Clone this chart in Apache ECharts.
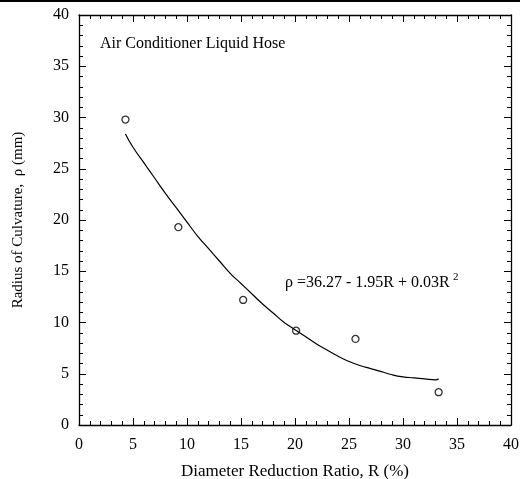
<!DOCTYPE html>
<html>
<head>
<meta charset="utf-8">
<script src="https://cdn.jsdelivr.net/npm/echarts@6/dist/echarts.min.js"></script>
<style>html,body{margin:0;padding:0;background:#fff;}#c{width:520px;height:479px;}</style>
</head>
<body>
<div id="c"></div>
<script>
// Measured data points (R %, rho mm)
var pointR = [4.3, 9.2, 15.2, 20.1, 25.6, 33.3];
var pointRho = [29.8, 19.3, 12.2, 9.2, 8.4, 3.2];
// Fitted curve
var curveR = [4.3, 5, 6, 7, 8, 9, 10, 11, 12, 13, 14, 15, 16, 17, 18, 19, 20, 21, 22, 23, 24, 25, 26, 27, 28, 29, 30, 31, 32, 33, 33.3];
var curveRho = [28.4, 27.1, 25.6, 24.1, 22.6, 21.2, 19.8, 18.4, 17.2, 16.0, 14.8, 13.8, 12.8, 11.8, 10.9, 10.0, 9.3, 8.6, 7.9, 7.3, 6.7, 6.2, 5.8, 5.5, 5.2, 4.9, 4.7, 4.6, 4.5, 4.4, 4.5];
var xTicks = [0, 5, 10, 15, 20, 25, 30, 35, 40];
var yTicks = [0, 5, 10, 15, 20, 25, 30, 35, 40];

var FONT = '"Liberation Serif", "DejaVu Serif", serif';
function pairs(a, b) { return a.map(function (v, i) { return [v, b[i]]; }); }

function axisBase(pos, showLabels, min, max, margin) {
  return {
    type: 'value', position: pos, min: min, max: max, interval: 5,
    axisLine: { show: true, onZero: false, lineStyle: { color: '#000', width: 1.3 } },
    axisTick: { show: true, inside: true, length: 7, lineStyle: { color: '#000', width: 1 } },
    minorTick: { show: true, splitNumber: 5, length: 4, lineStyle: { color: '#000', width: 1 } },
    splitLine: { show: false },
    axisLabel: { show: showLabels, color: '#000', fontFamily: FONT, fontSize: 16, margin: margin }
  };
}

var chart = echarts.init(document.getElementById('c'), null, { renderer: 'canvas' });
var xb = axisBase('bottom', true, xTicks[0], xTicks[xTicks.length - 1], 12);
xb.name = 'Diameter Reduction Ratio, R (%)';
xb.nameLocation = 'middle';
xb.nameGap = 38;
xb.nameTextStyle = { color: '#000', fontFamily: FONT, fontSize: 17 };
var xt = axisBase('top', false, xTicks[0], xTicks[xTicks.length - 1], 8);
var yl = axisBase('left', true, yTicks[0], yTicks[yTicks.length - 1], 10);
yl.name = 'Radius of Culvature,  \u03c1 (mm)';
yl.nameLocation = 'middle';
yl.nameGap = 53;
yl.nameTextStyle = { color: '#000', fontFamily: FONT, fontSize: 15 };
var yr = axisBase('right', false, yTicks[0], yTicks[yTicks.length - 1], 8);

chart.setOption({
  animation: false,
  backgroundColor: '#fff',
  grid: { left: 79, right: 9, top: 15, bottom: 54, containLabel: false, outerBoundsMode: 'none' },
  xAxis: [xb, xt],
  yAxis: [yl, yr],
  graphic: [
    { type: 'line', shape: { x1: 0, y1: 1, x2: 520, y2: 1 }, style: { stroke: '#000', lineWidth: 2 } },
    { type: 'text', left: 100, top: 36, style: { text: 'Air Conditioner Liquid Hose', font: '16px ' + FONT, fill: '#000' } },
    { type: 'text', left: 285, top: 272, style: {
      text: '{a|\u03c1 =36.27 - 1.95R + 0.03R} {s|2}',
      rich: {
        a: { fontFamily: FONT, fontSize: 16, fill: '#000', color: '#000', verticalAlign: 'bottom' },
        s: { fontFamily: FONT, fontSize: 11, fill: '#000', color: '#000', verticalAlign: 'top', padding: [0, 0, 8, 0] }
      }
    } }
  ],
  series: [
    { type: 'line', xAxisIndex: 0, yAxisIndex: 0, data: pairs(curveR, curveRho), showSymbol: false, symbol: 'none', smooth: true,
      lineStyle: { color: '#000', width: 1.2 } },
    { type: 'scatter', xAxisIndex: 0, yAxisIndex: 0, data: pairs(pointR, pointRho), symbol: 'circle', symbolSize: 7,
      itemStyle: { color: '#fff', borderColor: '#000', borderWidth: 1.3 } }
  ]
});
</script>
</body>
</html>
